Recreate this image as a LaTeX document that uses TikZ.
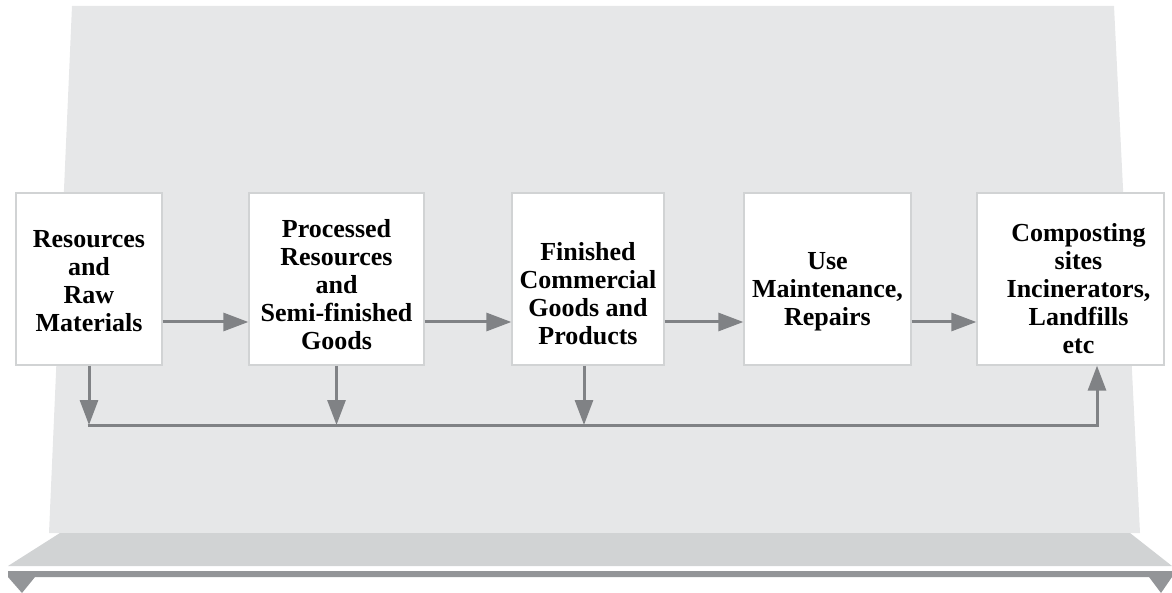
\documentclass[tikz,border=0pt]{standalone}
\usepackage{fontspec}
\setmainfont{Liberation Serif}
\usetikzlibrary{arrows.meta}
\definecolor{panelgray}{HTML}{E6E7E8}
\definecolor{shelfgray}{HTML}{D1D3D4}
\definecolor{bargray}{HTML}{939598}
\definecolor{arrowgray}{HTML}{808285}
\begin{document}
\begin{tikzpicture}[x=1pt,y=-1pt,
    stage/.style={rectangle,draw=shelfgray,line width=1.3pt,fill=white,inner sep=0pt,minimum height=172pt},
    caption/.style={align=center,inner sep=0pt,font=\fontsize{26}{28}\selectfont\bfseries},
    flow/.style={draw=arrowgray,line width=3pt,-{Triangle[length=25pt,width=18pt]}}]
    \useasboundingbox (0,0) rectangle (1172,593);
    \fill[panelgray] (72,6) -- (1114,6) -- (1140,533) -- (49,533) -- cycle;
    \fill[shelfgray] (60,533) -- (1130,533) -- (1172,566) -- (8,566) -- cycle;
    \fill[bargray] (8,571) -- (1172,571) -- (1172,577) -- (1161,593) -- (1149,577)
        -- (35,577) -- (22,593) -- (8,577) -- cycle;

    \node[stage,minimum width=146pt] (raw) at (89,279) {} ;
    \node[stage,minimum width=175pt] (semi) at (336.5,279) {} ;
    \node[stage,minimum width=152pt] (goods) at (588,279) {} ;
    \node[stage,minimum width=167pt] (use) at (827.5,279) {} ;
    \node[stage,minimum width=187pt] (sink) at (1070.5,279) {} ;

    \node[caption] (raw_text) at ([yshift=-2pt]raw.center) {Resources\\and\\Raw\\Materials} ;
    \node[caption] (semi_text) at ([yshift=-6pt]semi.center) {Processed\\Resources\\and\\Semi-finished\\Goods} ;
    \node[caption] (goods_text) at ([yshift=-15pt]goods.center) {Finished\\Commercial\\Goods and\\Products} ;
    \node[caption] (use_text) at ([yshift=-13pt]use.center) {Use\\Maintenance,\\Repairs} ;
    \node[caption] (sink_text) at ([xshift=8pt,yshift=-10pt]sink.center) {Composting\\sites\\Incinerators,\\Landfills\\etc} ;

    \coordinate (bus_west) at (89,425) ;
    \coordinate (bus_east) at (1097,425) ;

    \draw[flow] ([yshift=-43pt]raw.east) -- ([yshift=-43pt]semi.west) ;
    \draw[flow] ([yshift=-43pt]semi.east) -- ([yshift=-43pt]goods.west) ;
    \draw[flow] ([yshift=-43pt]goods.east) -- ([yshift=-43pt]use.west) ;
    \draw[flow] ([yshift=-43pt]use.east) -- ([yshift=-43pt]sink.west) ;

    \draw[flow] (raw.south) -- (raw.south |- bus_west) ;
    \draw[flow] (semi.south) -- (semi.south |- bus_west) ;
    \draw[flow] ([xshift=-4pt]goods.south) -- ([xshift=-4pt]goods.south |- bus_west) ;
    \draw[flow] ([xshift=-1.5pt]bus_west) -- (bus_east) -- (bus_east |- sink.south) ;
\end{tikzpicture}
\end{document}
